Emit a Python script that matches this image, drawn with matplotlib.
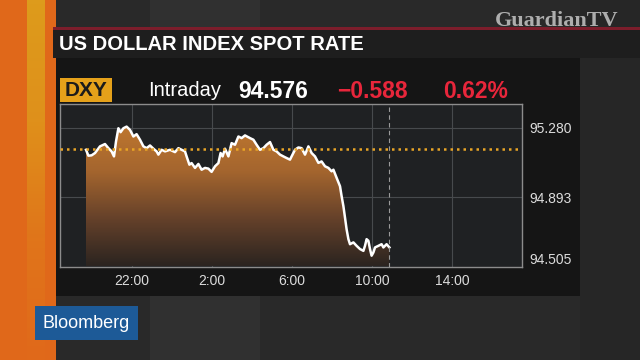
import matplotlib

matplotlib.use("Agg")
import matplotlib.pyplot as plt
import numpy as np
from matplotlib.colors import LinearSegmentedColormap
from matplotlib.patches import Rectangle

W, H = 640, 360

# hours counted from midnight of the previous day (22:00 -> 22, 2:00 -> 26)
hours = [
    19.70, 19.82, 19.98, 20.15, 20.40, 20.65, 20.82, 20.98, 21.10, 21.20,
    21.32, 21.43, 21.57, 21.73, 21.90, 22.07, 22.23, 22.40, 22.57, 22.73,
    22.90, 23.07, 23.23, 23.32, 23.48, 23.65, 23.90, 24.15, 24.32, 24.48,
    24.65, 24.73, 24.87, 24.98, 25.15, 25.32, 25.48, 25.65, 25.82, 25.98,
    26.15, 26.32, 26.43, 26.53, 26.65, 26.82, 26.98, 27.15, 27.32, 27.48,
    27.65, 27.90, 28.07, 28.23, 28.40, 28.57, 28.73, 28.90, 29.07, 29.23,
    29.40, 29.57, 29.73, 29.90, 29.98, 30.15, 30.32, 30.48, 30.65, 30.82,
    30.98, 31.15, 31.32, 31.48, 31.65, 31.82, 31.98, 32.07, 32.23, 32.40,
    32.48, 32.57, 32.65, 32.73, 32.82, 32.90, 33.07, 33.23, 33.40, 33.57,
    33.65, 33.73, 33.82, 33.90, 33.98, 34.07, 34.15, 34.32, 34.48, 34.57,
    34.73, 34.87,
]
dxy = [
    95.158, 95.125, 95.127, 95.140, 95.177, 95.190, 95.167, 95.149, 95.121, 95.204,
    95.278, 95.256, 95.278, 95.287, 95.269, 95.232, 95.245, 95.214, 95.177, 95.167,
    95.182, 95.164, 95.149, 95.131, 95.158, 95.149, 95.158, 95.145, 95.167, 95.158,
    95.149, 95.121, 95.075, 95.084, 95.057, 95.079, 95.047, 95.057, 95.053, 95.035,
    95.066, 95.084, 95.140, 95.121, 95.164, 95.121, 95.195, 95.186, 95.232, 95.223,
    95.238, 95.223, 95.214, 95.186, 95.158, 95.167, 95.186, 95.201, 95.158, 95.149,
    95.131, 95.121, 95.112, 95.103, 95.121, 95.158, 95.171, 95.167, 95.131, 95.177,
    95.140, 95.121, 95.085, 95.093, 95.066, 95.057, 95.038, 95.047, 95.002, 94.955,
    94.900, 94.844, 94.780, 94.715, 94.660, 94.632, 94.642, 94.623, 94.605, 94.595,
    94.623, 94.660, 94.651, 94.605, 94.568, 94.586, 94.614, 94.623, 94.632, 94.614,
    94.632, 94.614,
]
prev_close = 95.164
now_hour = 34.85
tick_hours = [22, 26, 30, 34, 38]
tick_labels = ["22:00", "2:00", "6:00", "10:00", "14:00"]
y_ticks = [94.505, 94.893, 95.280]
y_labels = ["94.505", "94.893", "95.280"]

last = "94.576"
change = "\u22120.588"
pct = "0.62%"

fig = plt.figure(figsize=(W / 100, H / 100), dpi=100)
fig.patch.set_facecolor("#292929")


def box(x0, y0, x1, y1, color, z=0):
    # pixel box, y measured from the top of the picture
    fig.add_artist(Rectangle((x0 / W, 1 - y1 / H), (x1 - x0) / W, (y1 - y0) / H,
                             transform=fig.transFigure, facecolor=color,
                             edgecolor="none", zorder=z))


def label(x, y, s, **kw):
    fig.text(x / W, 1 - y / H, s, zorder=4, **kw)


# background bands
box(150, 0, 260, 360, "#303030")
box(580, 0, 640, 360, "#262626")
box(0, 0, 56, 360, "#e0681a")

# amber stripe fading into the orange towards the bottom
stripe = fig.add_axes([27 / W, 0, 18 / W, 1], zorder=0.5)
stripe.set_axis_off()
stripe.imshow(np.linspace(0, 1, 100).reshape(-1, 1), aspect="auto",
              cmap=LinearSegmentedColormap.from_list(
                  "s", ["#dd9b1c", "#df901b", "#e0751a", "#e0691a"]),
              extent=[0, 1, 1, 0])

# title bar and chart panel
box(53, 28, 640, 58, "#1e1e1e", z=1)
box(53, 27, 640, 29.5, "#7c1d2b", z=1)
box(56, 58, 580, 296, "#151515")

label(59, 44, "US DOLLAR INDEX SPOT RATE", color="white", fontsize=14.5,
      fontweight="bold", family="Liberation Sans", va="center")
label(557, 21, "GuardianTV", color="#bdbdbd", fontsize=16, fontweight="bold",
      family="Liberation Serif", va="center", ha="center", alpha=0.9)

# header row
box(60, 78, 112, 102, "#e5a11a")
label(86, 91, "DXY", color="#1b1b1b", fontsize=15, fontweight="bold",
      family="Liberation Sans", va="center", ha="center")
label(148, 91, "Intraday", color="white", fontsize=14.5,
      family="Liberation Sans", va="center")
label(238, 92, last, color="white", fontsize=16.5, fontweight="bold",
      family="Liberation Sans", va="center")
label(337, 92, change, color="#e8263b", fontsize=16.5, fontweight="bold",
      family="Liberation Sans", va="center")
label(443, 92, pct, color="#e8263b", fontsize=16.5, fontweight="bold",
      family="Liberation Sans", va="center")

# Bloomberg badge
box(35, 306, 138, 340, "#1d5a97", z=3)
label(86.5, 323, "Bloomberg", color="white", fontsize=13,
      family="Liberation Sans", va="center", ha="center")

# chart
ax = fig.add_axes([60 / W, 1 - 267 / H, 462 / W, 163 / H])
ax.set_facecolor("#1f2123")
xmin, xmax = 18.4, 41.5
ymin, ymax = 94.51, 95.413
ax.set_xlim(xmin, xmax)
ax.set_ylim(ymin, ymax)

for h in tick_hours:
    ax.axvline(h, color="#474a4d", lw=0.8, zorder=1)
for v in y_ticks[1:]:
    ax.axhline(v, color="#474a4d", lw=0.8, zorder=1)

fill = ax.fill_between(hours, dxy, ymin, color="none", lw=0)
cmap = LinearSegmentedColormap.from_list(
    "dxy", ["#2b2420", "#65412a", "#a4652e", "#bf772f"])
grad = np.linspace(0, 1, 256).reshape(-1, 1)
img = ax.imshow(grad, extent=[xmin, xmax, ymin, 95.30], origin="lower",
                aspect="auto", cmap=cmap, zorder=2)
img.set_clip_path(fill.get_paths()[0], transform=ax.transData)

ax.plot(hours, dxy, color="white", lw=1.8, zorder=4, solid_joinstyle="round")
ax.axhline(prev_close, color="#e9a526", lw=1.8, ls=(0, (1, 1.6)), zorder=5)
ax.axvline(now_hour, color="#9a9a9a", lw=0.8, ls=(0, (4, 3)), zorder=5)

for s in ax.spines.values():
    s.set_color("#8c8c8c")
    s.set_linewidth(1)

ax.set_xticks(tick_hours)
ax.set_xticklabels(tick_labels)
ax.yaxis.tick_right()
ax.set_yticks(y_ticks)
ax.set_yticklabels(y_labels)
ax.tick_params(length=0, colors="#dcdcdc", labelsize=10, pad=5)
for t in ax.get_xticklabels() + ax.get_yticklabels():
    t.set_family("Liberation Sans")
ax.get_yticklabels()[0].set_verticalalignment("bottom")

fig.savefig("out.png", dpi=100, facecolor=fig.get_facecolor())
